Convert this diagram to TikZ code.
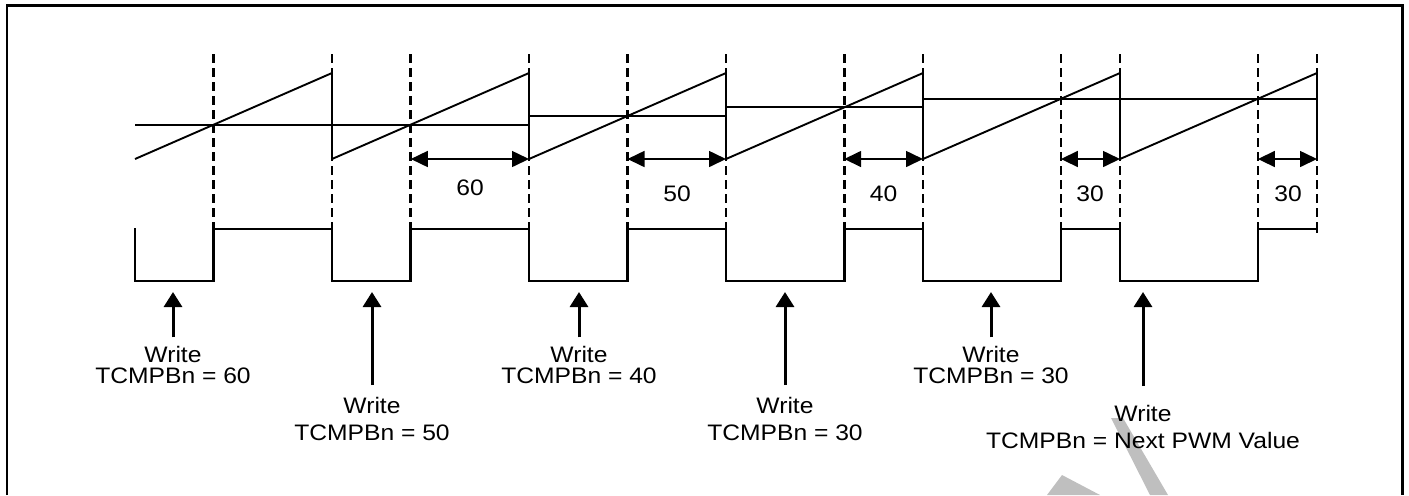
\documentclass[tikz,border=0pt]{standalone}
\usepackage{fontspec}
\setmainfont{Liberation Sans}
\newfontfamily\lblfont[FakeStretch=1.1]{Liberation Sans}
\usepackage{tikz}
\usetikzlibrary{calc}
\usetikzlibrary{arrows.meta}
\def\per{197}

\begin{document}
\begin{tikzpicture}[x=0.5pt, y=-0.5pt,
  wave/.style={line width=0.95pt},
  reset/.style={line width=1.4pt},
  guide/.style={line width=1.4pt, dash pattern=on 4.5pt off 2.5pt},
  pwm/.style={line width=1.35pt, line cap=rect},
  dimline/.style={line width=0.8pt, >={Triangle[length=8.5pt,width=8pt]}, <->},
  wr/.style={line width=1.5pt, >={Triangle[length=7.5pt,width=9pt]}, ->},
  wlab/.style={font=\lblfont\fontsize{11.2}{10.8}\selectfont, align=center, inner sep=0pt, anchor=north},
  wlabl/.style={font=\lblfont\fontsize{11.2}{13.3}\selectfont, align=center, inner sep=0pt, anchor=north},
  val/.style={font=\lblfont\fontsize{11.2}{13}\selectfont, inner sep=0pt}]

\useasboundingbox (0,0) rectangle (1409,495);

% frame
\draw[line width=1.4pt] (7,495) -- (7,5.5) -- (1402.5,5.5) -- (1402.5,495);

% watermark
\begin{scope}
\clip (0,0) rectangle (1409,495);
\fill[gray!50] (1111,418) -- (1123,418) -- (1168,495) -- (1150,495) -- cycle;
\fill[gray!50] (1047,495) -- (1062,475) -- (1100,495) -- cycle;
\end{scope}

% period starts and compare points
\foreach \i/\f in {0/0.4,1/0.4,2/0.5,3/0.6,4/0.7,5/0.7}{
  \coordinate (s\i) at ({135+\i*\per},159);
  \coordinate (c\i) at ({135+(\i+\f)*\per},159);
}
\coordinate (s6) at ({135+6*\per},159);

% dashed guides
\foreach \i in {0,...,5}{
  \draw[guide] ($(c\i)+(0,-105)$) -- ++(0,175);
  \draw[guide] ($(s\i)+(\per,-105)$) -- ++(0,175);
}

% counter ramp, compare level, output
\foreach \i/\f in {0/0.4,1/0.4,2/0.5,3/0.6,4/0.7,5/0.7}{
  \draw[wave] (s\i) -- ($(s\i)+(\per,-86)$);
  \draw[reset] ($(s\i)+(\per,-86)$) -- ++(0,86);
  \draw[wave] ($(s\i)+(0,{-86*\f})$) -- ++(\per,0);
  \draw[pwm] ($(s\i)+(0,70)$) -- ++(0,52) -- ($(c\i)+(0,122)$) -- ++(0,-52) -- ($(s\i)+(\per,70)$);
}
\draw[pwm] ($(s6)+(0,70)$) -- ++(0,3);

% widths
\draw[dimline] (c1) -- (s2) node[val] (v1) at (470,187.5) {60};
\draw[dimline] (c2) -- (s3) node[val] (v2) at (677,194) {50};
\draw[dimline] (c3) -- (s4) node[val] (v3) at (883.5,194) {40};
\draw[dimline] (c4) -- (s5) node[val] (v4) at (1090,194) {30};
\draw[dimline] (c5) -- (s6) node[val] (v5) at (1288,194) {30};

% writes
\coordinate (t1) at (173,292);
\coordinate (t2) at (372,292);
\coordinate (t3) at (579,292);
\coordinate (t4) at (785,292);
\coordinate (t5) at (991,292);
\coordinate (t6) at (1143,292);

\node[wlab] (w1) at (173,345.7) {Write\\TCMPBn = 60};
\node[wlabl] (w2) at (372,397) {Write\\TCMPBn = 50};
\node[wlab] (w3) at (579,345.7) {Write\\TCMPBn = 40};
\node[wlabl] (w4) at (785,397) {Write\\TCMPBn = 30};
\node[wlab] (w5) at (991,345.7) {Write\\TCMPBn = 30};
\node[wlabl] (w6) at (1143,405) {Write\\TCMPBn = Next PWM Value};

\draw[wr, shorten <=4.2pt] (w1) -- (t1);
\draw[wr, shorten <=6pt] (w2) -- (t2);
\draw[wr, shorten <=4.2pt] (w3) -- (t3);
\draw[wr, shorten <=6pt] (w4) -- (t4);
\draw[wr, shorten <=4.2pt] (w5) -- (t5);
\draw[wr, shorten <=9.5pt] (w6) -- (t6);

\end{tikzpicture}
\end{document}
